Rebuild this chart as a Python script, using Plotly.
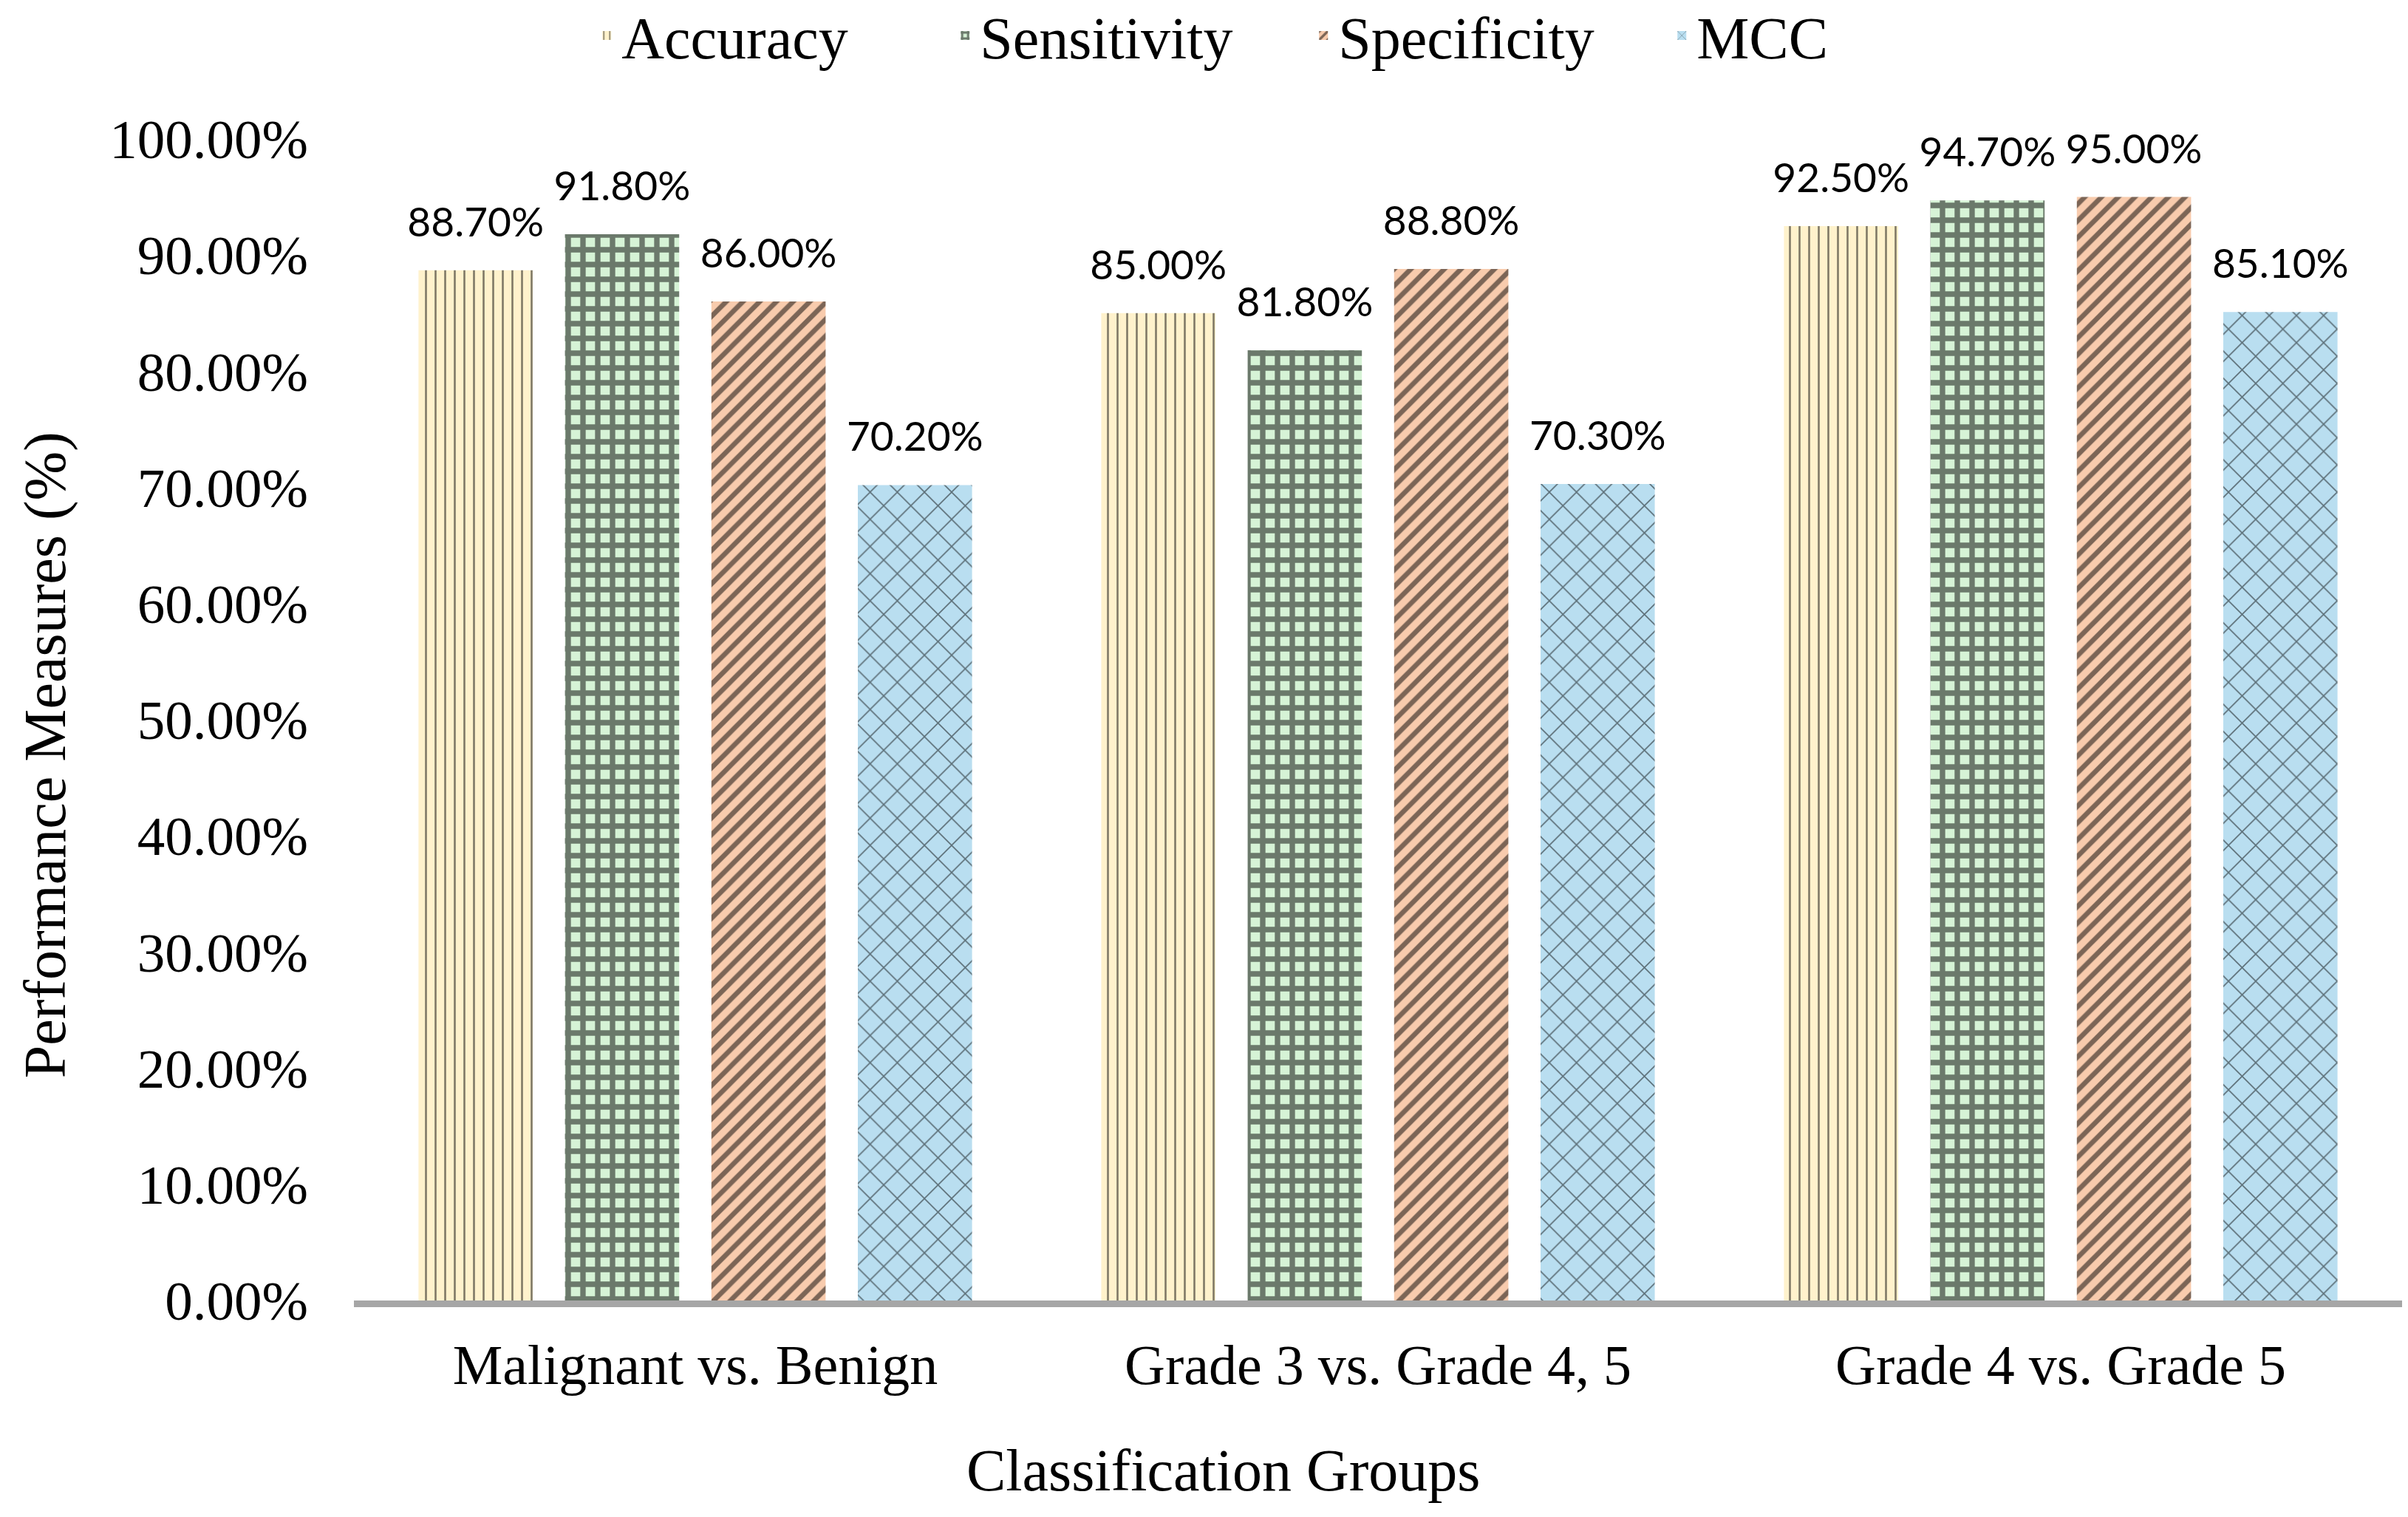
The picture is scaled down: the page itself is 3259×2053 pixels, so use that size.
import plotly.graph_objects as go

categories = ["Malignant vs. Benign", "Grade 3 vs. Grade 4, 5", "Grade 4 vs. Grade 5"]
series_names = ["Accuracy", "Sensitivity", "Specificity", "MCC"]
accuracy = [0.887, 0.850, 0.925]
sensitivity = [0.918, 0.818, 0.947]
specificity = [0.860, 0.888, 0.950]
mcc = [0.702, 0.703, 0.851]
y_ticks = [0.0, 0.1, 0.2, 0.3, 0.4, 0.5, 0.6, 0.7, 0.8, 0.9, 1.0]
x_title = "Classification Groups"
y_title = "Performance Measures (%)"

values = [accuracy, sensitivity, specificity, mcc]
fills = ["#FFF2CC", "#D6F3D6", "#F8CBAD", "#B9DEF0"]
patterns = [
    dict(shape="|", size=13, solidity=0.2, fgcolor="black", fillmode="overlay"),
    dict(shape="+", size=20, solidity=0.6, fgcolor="black", fillmode="overlay"),
    dict(shape="/", size=16, solidity=0.42, fgcolor="black", fillmode="overlay"),
    dict(shape="x", size=26, solidity=0.12, fgcolor="black", fillmode="overlay"),
]

SERIF = "Liberation Serif"
fig = go.Figure()
for name, vals, col, pat in zip(series_names, values, fills, patterns):
    fig.add_trace(go.Bar(
        x=categories, y=vals, name=name, offsetgroup=name,
        marker=dict(color=col, line=dict(width=0), pattern=pat),
    ))
for name, vals in zip(series_names, values):
    fig.add_trace(go.Scatter(
        x=categories, y=vals, offsetgroup=name, mode="markers+text",
        text=[f"{v*100:.2f}%" for v in vals], textposition="top center",
        textfont=dict(family="Lato", size=55, color="black"),
        marker=dict(size=50, color="rgba(0,0,0,0)"),
        showlegend=False, hoverinfo="skip", cliponaxis=False,
    ))

fig.update_layout(
    width=3243, height=2037,
    paper_bgcolor="white", plot_bgcolor="white",
    margin=dict(l=471, r=0, t=180, b=285, autoexpand=False),
    barmode="group", bargap=0.142, bargroupgap=0.22,
    scattermode="group", scattergap=0.142,
    font=dict(family=SERIF, color="black"),
    legend=dict(orientation="h", xref="container", x=0.2446, xanchor="left",
                yref="paper", y=1.089, yanchor="middle",
                entrywidth=440, entrywidthmode="pixels",
                font=dict(family=SERIF, size=80), traceorder="normal"),
    showlegend=True,
    annotations=[
        dict(text=x_title, xref="paper", yref="paper", x=0.4243, y=-0.146,
             xanchor="center", yanchor="middle", showarrow=False,
             font=dict(family=SERIF, size=80, color="black")),
        dict(text=y_title, xref="paper", yref="paper", x=-0.1503, y=0.4695,
             xanchor="center", yanchor="middle", showarrow=False, textangle=-90,
             font=dict(family=SERIF, size=80, color="black")),
    ],
)
fig.update_xaxes(
    showline=True, linecolor="#A6A6A6", linewidth=9, showgrid=False,
    ticks="outside", ticklen=13, tickcolor="rgba(0,0,0,0)",
    tickfont=dict(family=SERIF, size=76),
)
fig.update_yaxes(
    range=[0, 1], tickvals=y_ticks, tickformat=".2%", showgrid=False,
    zeroline=False, showline=False,
    ticks="outside", ticklen=46, tickcolor="rgba(0,0,0,0)",
    tickfont=dict(family=SERIF, size=75),
)
fig.write_html("out.html")
